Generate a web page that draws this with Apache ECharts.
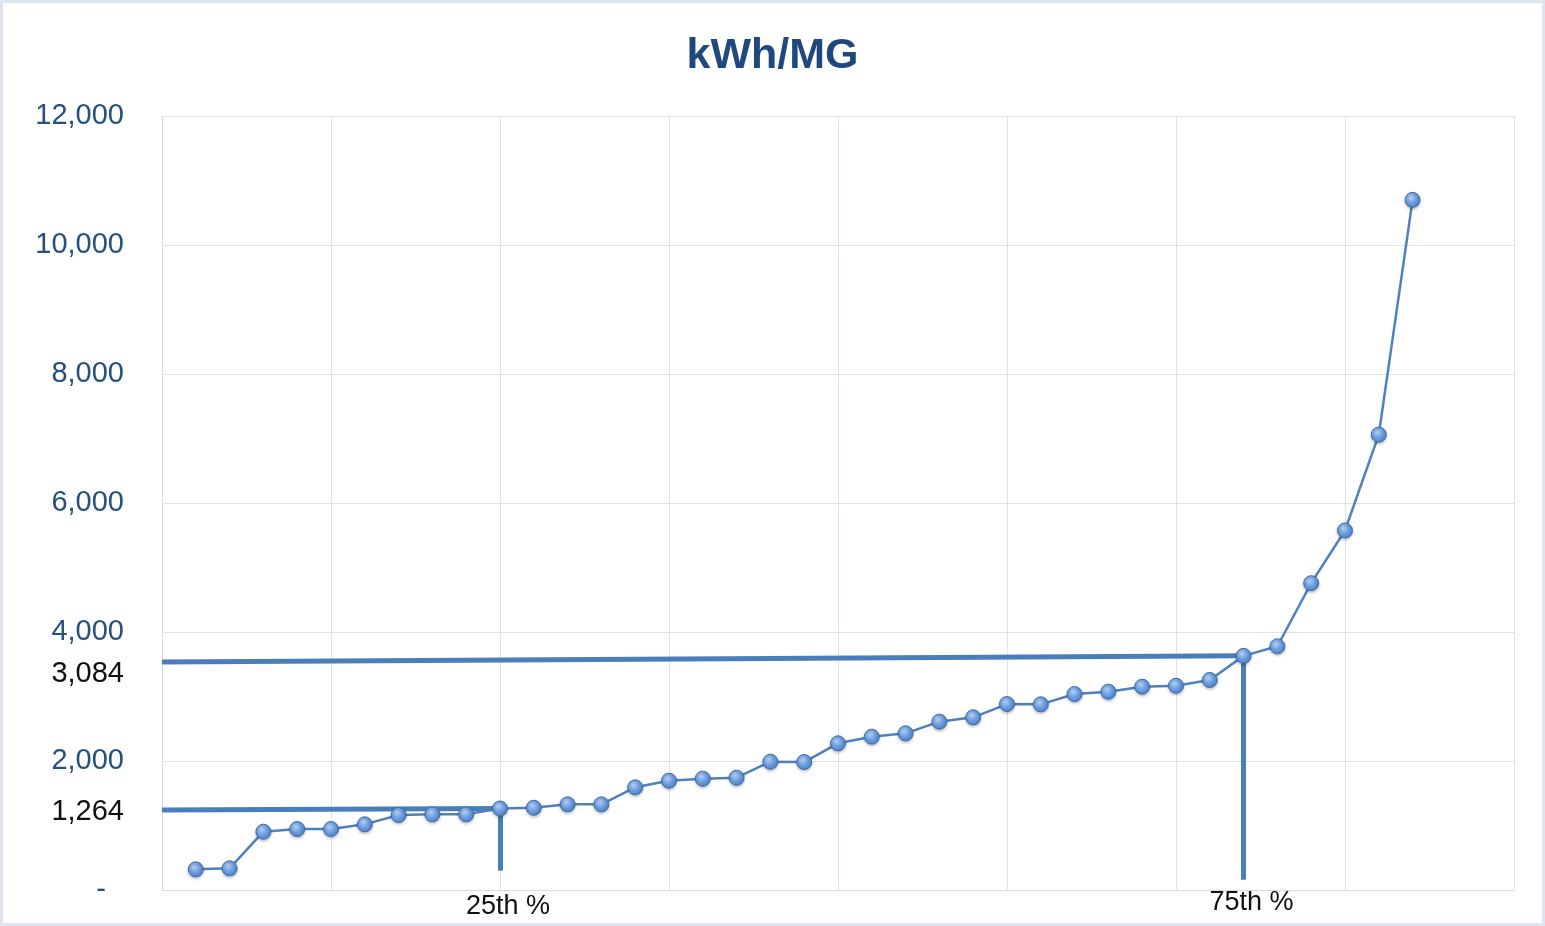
<!DOCTYPE html>
<html>
<head>
<meta charset="utf-8">
<title>kWh/MG</title>
<script src="https://cdn.jsdelivr.net/npm/echarts@6/dist/echarts.min.js"></script>
<style>
  html, body { margin: 0; padding: 0; background: #fff; }
  #chart {
    width: 1545px;
    height: 926px;
    box-sizing: border-box;
    border: 3px solid #dce6f2;
  }
</style>
</head>
<body>
<div id="chart"></div>
<script>
// kWh per million gallons, sorted ascending (one point per plant)
const kwhPerMG = [
  320, 336, 904, 945, 945, 1018, 1162, 1173, 1173, 1264,
  1275, 1328, 1328, 1592, 1695, 1726, 1741, 1989, 1984, 2274,
  2377, 2429, 2610, 2677, 2883, 2878, 3038, 3074, 3152, 3167,
  3256, 3630, 3779, 4757, 5574, 7060, 10700
];
const yTicks = [0, 2000, 4000, 6000, 8000, 10000, 12000];

// percentile markers: rank position on the x axis, value shown at the left
const pctRank = [10, 32];
const pctLeftValue = [1240, 3535];     // where the hand-drawn line meets the axis
const pctPointValue = [1264, 3630];
const pctBottomValue = [300, 160];     // foot of the drop line
const pctNames = ["25th %", "75th %"];
const pctLabels = ["1,264", "3,084"];

const chart = echarts.init(document.getElementById("chart"));
const lineColor = "#4f81bd";
const fmt = (v) => (v === 0 ? "{d|-}" : v.toLocaleString("en-US"));

const markData = [];
pctRank.forEach((r, i) => {
  markData.push([{ coord: [0, pctLeftValue[i]] }, { coord: [r, pctPointValue[i]] }]);
  markData.push([{ coord: [r, pctPointValue[i]] }, { coord: [r, pctBottomValue[i]] }]);
});

chart.setOption({
  animation: false,
  textStyle: { fontFamily: "Liberation Sans, Arial, sans-serif" },
  title: {
    text: "kWh/MG",
    left: "center",
    top: 27,
    textStyle: { fontSize: 43, fontWeight: "bold", color: "#1f497d" },
  },
  grid: { left: 159, right: 28, top: 113, bottom: 33 },
  xAxis: {
    type: "value",
    min: 0,
    max: 40,
    interval: 5,
    axisLabel: { show: false },
    axisTick: { show: false },
    axisLine: { show: true, lineStyle: { color: "#d4dde9", width: 1 } },
    splitLine: { show: true, lineStyle: { color: "#dbe3ee", width: 1 } },
  },
  yAxis: {
    type: "value",
    min: yTicks[0],
    max: yTicks[yTicks.length - 1],
    interval: 2000,
    axisTick: { show: false },
    axisLine: { show: true, lineStyle: { color: "#d4dde9", width: 1 } },
    splitLine: { show: true, lineStyle: { color: "#dbe3ee", width: 1 } },
    axisLabel: {
      margin: 38,
      color: "#25507f",
      fontSize: 29,
      formatter: fmt,
      rich: { d: { fontSize: 29, color: "#25507f", padding: [0, 18, 0, 0] } },
    },
  },
  series: [
    {
      type: "line",
      data: kwhPerMG.map((v, i) => [i + 1, v]),
      symbol: "circle",
      symbolSize: 15,
      lineStyle: { color: lineColor, width: 2.5 },
      itemStyle: {
        color: new echarts.graphic.RadialGradient(0.4, 0.35, 0.7, [
          { offset: 0, color: "#b4d0f5" },
          { offset: 0.5, color: "#6e9fe0" },
          { offset: 1, color: "#4a7ec4" },
        ]),
        borderColor: "#3d6fae",
        borderWidth: 1,
        shadowColor: "rgba(0,0,0,0.25)",
        shadowBlur: 3,
        shadowOffsetY: 1.5,
      },
      z: 3,
      markLine: {
        silent: true,
        symbol: "none",
        label: { show: false },
        lineStyle: { color: "#4a7ebb", width: 5, type: "solid" },
        data: markData,
        z: 2,
      },
    },
  ],
});

// annotation texts placed through the chart's own scales
const texts = [];
pctRank.forEach((r, i) => {
  const foot = chart.convertToPixel({ gridIndex: 0 }, [r, 0]);
  texts.push({
    type: "text",
    x: foot[0] + 8,
    y: foot[1] + (i === 0 ? 17 : 13),
    style: {
      text: pctNames[i],
      fontSize: 27,
      fontFamily: "Liberation Sans, Arial, sans-serif",
      fill: "#111",
      align: "center",
      verticalAlign: "middle",
    },
  });
  const left = chart.convertToPixel({ gridIndex: 0 }, [0, pctLeftValue[i]]);
  texts.push({
    type: "text",
    x: left[0] - 38,
    y: left[1] + (i === 0 ? 2 : 12),
    style: {
      text: pctLabels[i],
      fontSize: 29,
      fontFamily: "Liberation Sans, Arial, sans-serif",
      fill: "#111",
      align: "right",
      verticalAlign: "middle",
    },
  });
});
chart.setOption({ graphic: texts });
</script>
</body>
</html>
